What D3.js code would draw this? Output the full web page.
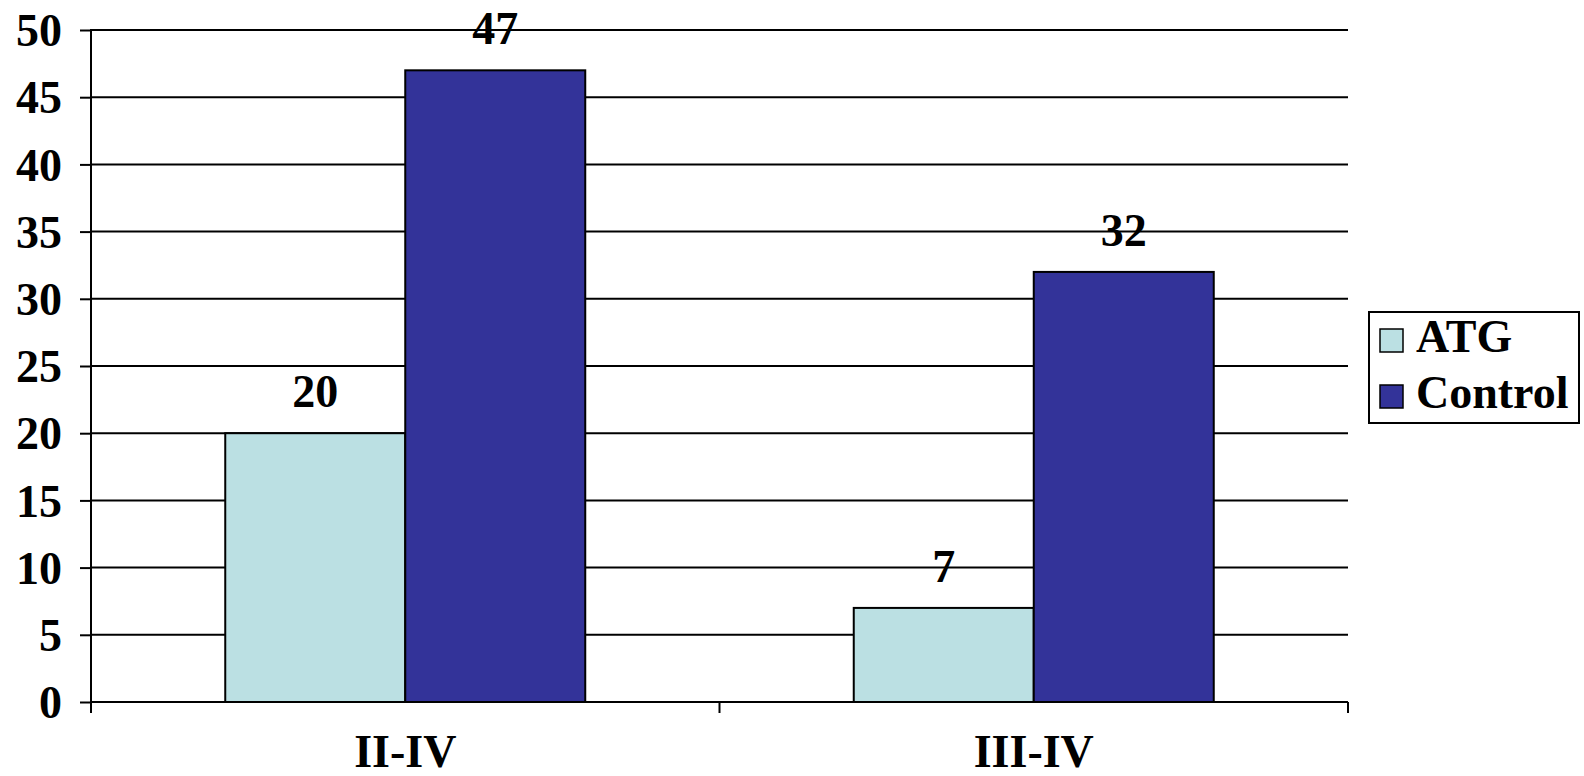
<!DOCTYPE html>
<html><head><meta charset="utf-8">
<script src="https://cdn.jsdelivr.net/npm/d3@7"></script>
<style>
html,body{margin:0;padding:0;background:#fff;}
svg{display:block;}
text{font-family:"Liberation Serif","Times New Roman",serif;font-weight:bold;fill:#000;}
</style></head>
<body>
<script>
const categories = ["II-IV", "III-IV"];
const seriesNames = ["ATG", "Control"];
const atgValues = [20, 7];
const controlValues = [47, 32];
const yTicks = [0, 5, 10, 15, 20, 25, 30, 35, 40, 45, 50];
const seriesColors = ["#BBE0E3", "#333399"];

const W = 1584, H = 776;
const plotL = 91, plotR = 1348, plotT = 30, plotB = 702;
const fs = 46;

const svg = d3.select("body").append("svg").attr("width", W).attr("height", H);

const y = d3.scaleLinear().domain([0, 50]).range([plotB, plotT]);
const x = d3.scaleBand().domain(categories).range([plotL, plotR]).paddingInner(0).paddingOuter(0);
const groupFrac = 360 / 628.5;
const xs = d3.scaleBand().domain(seriesNames).range([0, x.bandwidth() * groupFrac]).padding(0);
const groupOffset = (x.bandwidth() - xs.range()[1]) / 2;

// gridlines
svg.append("g").selectAll("line").data(yTicks).join("line")
  .attr("x1", plotL).attr("x2", plotR)
  .attr("y1", d => y(d)).attr("y2", d => y(d))
  .attr("stroke", "#000").attr("stroke-width", 2);

// y axis
const yAxis = svg.append("g").attr("transform", `translate(${plotL},0)`)
  .call(d3.axisLeft(y).tickValues(yTicks).tickSize(11).tickPadding(18));
yAxis.select(".domain").remove();
yAxis.selectAll(".tick line").attr("stroke", "#000").attr("stroke-width", 2);
yAxis.selectAll(".tick text").attr("font-size", fs).attr("font-family", "Liberation Serif").attr("font-weight", "bold").attr("fill", "#000").attr("dy", "0.34em");
svg.append("line").attr("x1", plotL).attr("x2", plotL).attr("y1", plotT - 1).attr("y2", plotB + 11)
  .attr("stroke", "#000").attr("stroke-width", 2);

// data rows
const rows = categories.map((c, i) => ({cat: c, vals: [atgValues[i], controlValues[i]]}));

const groups = svg.append("g").selectAll("g").data(rows).join("g")
  .attr("transform", d => `translate(${x(d.cat) + groupOffset},0)`);

groups.selectAll("rect").data(d => d.vals.map((v, j) => ({s: seriesNames[j], v, j}))).join("rect")
  .attr("x", d => xs(d.s)).attr("width", xs.bandwidth())
  .attr("y", d => y(d.v)).attr("height", d => y(0) - y(d.v))
  .attr("fill", d => seriesColors[d.j]).attr("stroke", "#000").attr("stroke-width", 2);

groups.selectAll("text.val").data(d => d.vals.map((v, j) => ({s: seriesNames[j], v, j}))).join("text")
  .attr("class", "val")
  .attr("x", d => xs(d.s) + xs.bandwidth() / 2)
  .attr("y", d => y(d.v) - 26)
  .attr("text-anchor", "middle").attr("font-size", fs)
  .text(d => d.v);

// x axis
svg.append("line").attr("x1", plotL).attr("x2", plotR).attr("y1", plotB).attr("y2", plotB)
  .attr("stroke", "#000").attr("stroke-width", 2);
const boundaries = [plotL].concat(categories.map(c => x(c) + x.bandwidth()));
svg.append("g").selectAll("line").data(boundaries).join("line")
  .attr("x1", d => d).attr("x2", d => d).attr("y1", plotB).attr("y2", plotB + 11)
  .attr("stroke", "#000").attr("stroke-width", 2);
const xAxis = svg.append("g").attr("transform", `translate(0,${plotB})`)
  .call(d3.axisBottom(x).tickSize(0).tickPadding(0));
xAxis.select(".domain").remove();
xAxis.selectAll(".tick text").attr("font-size", fs).attr("font-family", "Liberation Serif").attr("font-weight", "bold").attr("fill", "#000")
  .attr("dy", null).attr("y", 65);

// legend
const lg = svg.append("g");
lg.append("rect").attr("x", 1369).attr("y", 312).attr("width", 210).attr("height", 111)
  .attr("fill", "#fff").attr("stroke", "#000").attr("stroke-width", 2);
const li = lg.selectAll("g").data(seriesNames).join("g")
  .attr("transform", (d, i) => `translate(1380,${329 + i * 56})`);
li.append("rect").attr("width", 23).attr("height", 23)
  .attr("fill", (d, i) => seriesColors[i]).attr("stroke", "#000").attr("stroke-width", 1.5);
li.append("text").attr("x", 36).attr("y", 23).attr("font-size", fs).text(d => d);
</script>
</body></html>
